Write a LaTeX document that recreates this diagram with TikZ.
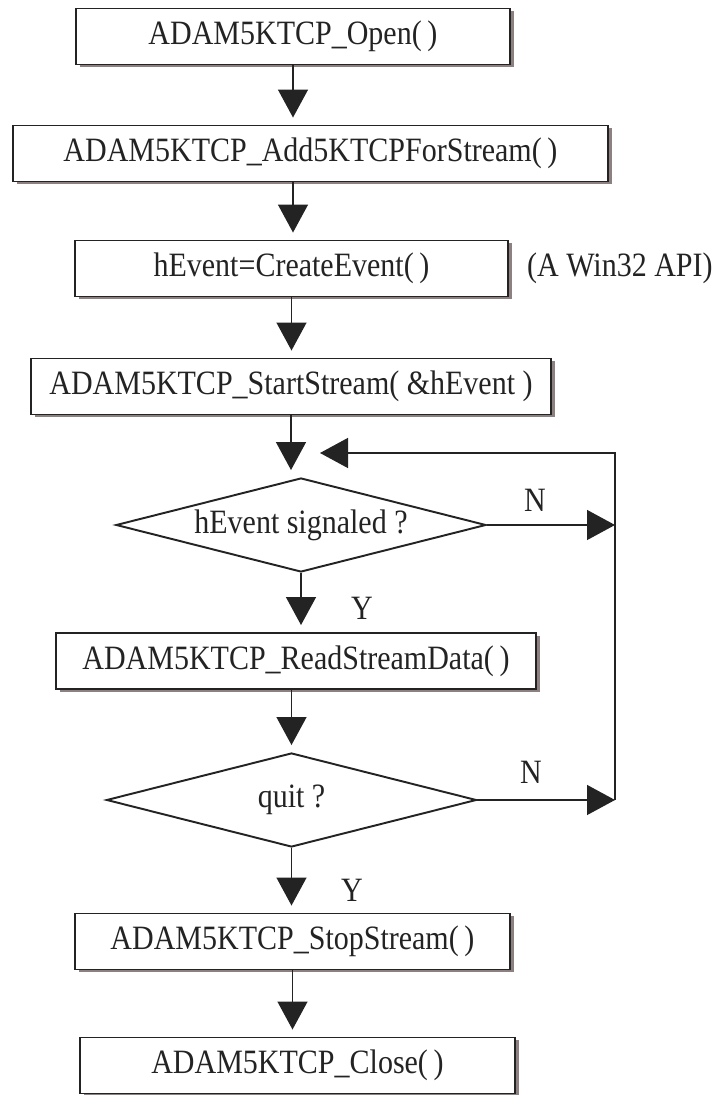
\documentclass[tikz,border=0pt]{standalone}
\usepackage{fontspec}
\setmainfont[FakeStretch=0.88]{Liberation Serif}
\usepackage{tikz}
\usetikzlibrary{shapes.geometric,arrows.meta,shadows}
\definecolor{inkgray}{RGB}{35,35,35}
\definecolor{shadegray}{RGB}{140,128,128}

\begin{document}
\begin{tikzpicture}[
  font=\fontsize{19.4}{23}\selectfont,
  callbox/.style={rectangle, draw=inkgray, line width=1.1pt, fill=white,
                  minimum height=1.12cm, inner sep=0pt, text=inkgray,
                  drop shadow={shadow xshift=0.07cm, shadow yshift=-0.06cm,
                               fill=shadegray, opacity=1}},
  testbox/.style={diamond, draw=inkgray, line width=1.1pt, aspect=3.9,
                  minimum width=7.4cm, minimum height=1.88cm, inner sep=0pt,
                  text=inkgray},
  arrow/.style={-{Triangle[length=0.56cm,width=0.6cm]}, line width=0.8pt,
                color=inkgray},
  downarrow/.style={arrow, shorten >=0.14cm},
  tag/.style={text=inkgray, inner sep=0pt}
]
\useasboundingbox (0,0) rectangle (14.3,21.9);

% Setup calls
\node[callbox, minimum width=8.68cm] (open) at (5.86,21.17) {ADAM5KTCP\_Open(\,)};
\node[callbox, minimum width=11.9cm] (addstream) at (6.21,18.83) {ADAM5KTCP\_Add5KTCPForStream(\,)};
\node[callbox, minimum width=8.66cm] (event) at (5.83,16.53) {hEvent=CreateEvent(\,)};
\node[callbox, minimum width=10.4cm] (start) at (5.82,14.17) {ADAM5KTCP\_StartStream( \&hEvent )};
\node[tag, anchor=east] (winnote) at (14.26,16.54) {(A Win32 API)};

% Stream loop
\node[testbox] (signaled) at (6.02,11.40) {hEvent signaled ?};
\node[callbox, minimum width=9.6cm] (read) at (5.92,8.68) {ADAM5KTCP\_ReadStreamData(\,)};
\node[testbox] (quit) at (5.83,5.90) {quit ?};

% Shutdown
\node[callbox, minimum width=8.7cm] (stop) at (5.85,3.07) {ADAM5KTCP\_StopStream(\,)};
\node[callbox, minimum width=8.7cm] (close) at (5.95,0.59) {ADAM5KTCP\_Close(\,)};

% Branch labels
\node[tag] (n1) at (10.70,11.90) {N};
\node[tag] (n2) at (10.62,6.46) {N};
\node[tag] (y1) at (7.24,9.74) {Y};
\node[tag] (y2) at (7.04,4.10) {Y};

% Return rail
\coordinate (railbot) at (12.3,5.90);
\coordinate (railtop) at (12.3,12.84);
\coordinate (loopend) at (6.4,12.84);

% Vertical flow
\draw[downarrow] (open.south) -- (open.south |- addstream.north);
\draw[downarrow] (addstream.south -| open.south) -- (open.south |- event.north);
\draw[downarrow] (event.south) -- (event.south |- start.north);
\draw[downarrow] (start.south) -- (start.south |- signaled.north);
\draw[downarrow] (signaled.south) -- (signaled.south |- read.north);
\draw[downarrow] (read.south -| quit.north) -- (quit.north);
\draw[downarrow] (quit.south) -- (quit.south |- stop.north);
\draw[downarrow] (stop.south) -- (stop.south |- close.north);

% N branches back to the wait
\draw[arrow] (signaled.east) -- (signaled.east -| railbot);
\draw[arrow] (quit.east) -- (railbot);
\draw[arrow] (railbot) -- (railtop) -- (loopend);

\end{tikzpicture}
\end{document}
